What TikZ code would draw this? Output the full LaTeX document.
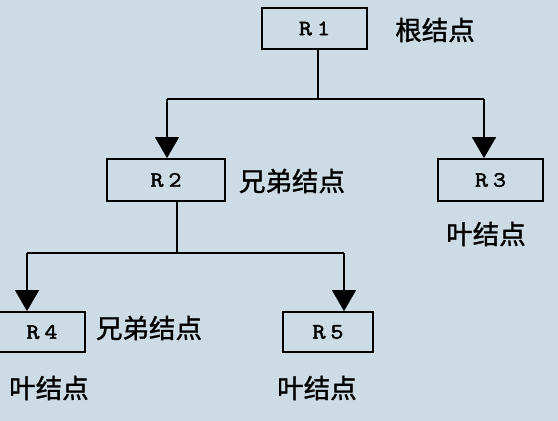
\documentclass[tikz,border=0pt]{standalone}
\usepackage{fontspec}
\newfontfamily\cjk[FakeBold=1.2]{Noto Sans CJK SC}
\newfontfamily\monof[FakeBold=2,FakeStretch=1.15]{Latin Modern Mono}
\usetikzlibrary{arrows.meta}
\definecolor{bgc}{RGB}{205,219,229}
\tikzset{
  box/.style={draw=black, line width=1.8pt, rectangle, inner sep=0pt,
    font=\monof\fontsize{22}{22}\selectfont},
  lab/.style={inner sep=0pt, font=\cjk\fontsize{26.5}{26.5}\selectfont},
  conn/.style={line width=1.4pt, black},
  arr/.style={conn, -{Triangle[width=24pt,length=21pt]}},
}
\newcommand{\rl}[1]{R\hspace{5pt}#1}
\begin{document}
\begin{tikzpicture}[x=1pt,y=-1pt]
\fill[bgc] (0,0) rectangle (558,421);
\useasboundingbox (0,0) rectangle (558,421);
% boxes
\node[box, minimum width=105pt, minimum height=41pt] (R1) at (314.5,28.5) {\rl{1}};
\node[box, minimum width=118pt, minimum height=42pt] (R2) at (166,180) {\rl{2}};
\node[box, minimum width=105pt, minimum height=42pt] (R3) at (490.5,180) {\rl{3}};
\node[box, minimum width=86pt, minimum height=40pt] (R4) at (42,332) {\rl{4}};
\node[box, minimum width=90pt, minimum height=40pt] (R5) at (328,332) {\rl{5}};
% labels
\node[lab] (L1) at (435,30) {根结点};
\node[lab] (L2) at (292,181) {兄弟结点};
\node[lab] (L3) at (486,234) {叶结点};
\node[lab] (L4) at (149,328) {兄弟结点};
\node[lab] (L5) at (49,388) {叶结点};
\node[lab] (L6) at (317,388) {叶结点};
% connectors
\coordinate (t1) at (318,99);
\coordinate (b1) at (167,99);
\coordinate (b2) at (484,99);
\draw[conn] (R1.south -| t1) -- (t1);
\draw[conn] (b1) -- (b2);
\draw[arr] (b1) -- (b1 |- R2.north);
\draw[arr] (b2) -- (b2 |- R3.north);
\coordinate (t2) at (177,253);
\coordinate (b3) at (27,253);
\coordinate (b4) at (344,253);
\draw[conn] (R2.south -| t2) -- (t2);
\draw[conn] (b3) -- (b4);
\draw[arr] (b3) -- (b3 |- R4.north);
\draw[arr] (b4) -- (b4 |- R5.north);
\end{tikzpicture}
\end{document}
